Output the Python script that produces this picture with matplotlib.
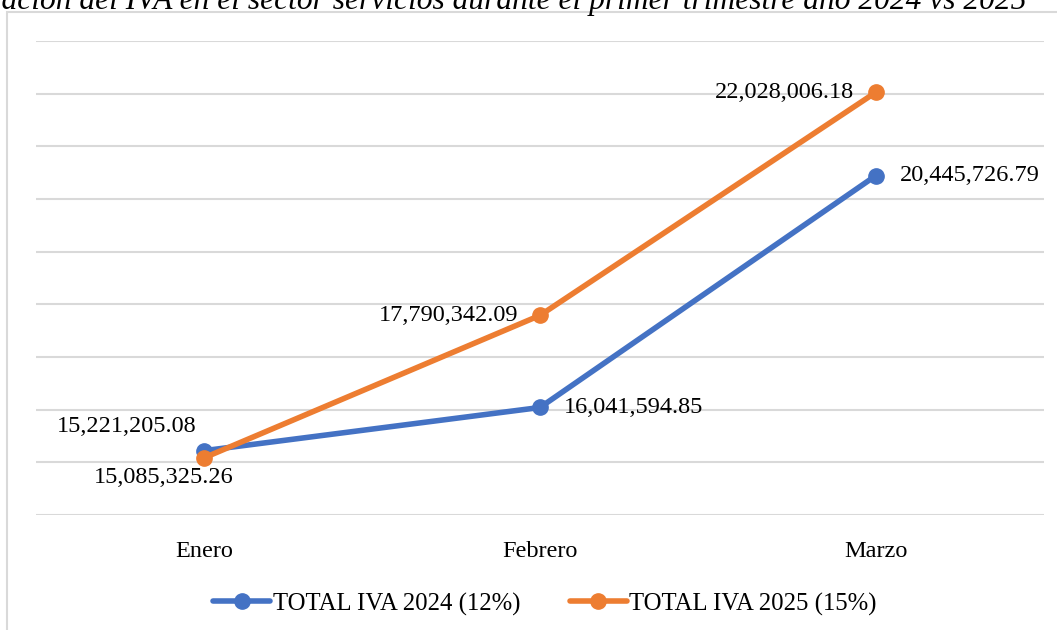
import matplotlib
matplotlib.use("Agg")
import matplotlib.pyplot as plt
from matplotlib.patches import Rectangle

plt.rcParams['font.family'] = ['Liberation Serif', 'DejaVu Serif']

months = ["Enero", "Febrero", "Marzo"]
iva_2024 = [15221205.08, 16041594.85, 20445726.79]
iva_2025 = [15085325.26, 17790342.09, 22028006.18]
series_names = ["TOTAL IVA 2024 (12%)", "TOTAL IVA 2025 (15%)"]
title = "Recaudación del IVA en el sector servicios durante el primer trimestre año 2024 vs 2025"

W, H = 1057, 630
fig = plt.figure(figsize=(W / 100, H / 100), dpi=100)
fig.patch.set_facecolor("white")

# outer chart border (cropped)
fig.patches.append(Rectangle((7 / W, -0.1), 1.2, 1 - 12 / H + 0.1, transform=fig.transFigure,
                             fill=False, edgecolor="#D9D9D9", linewidth=1.5, zorder=0))

ax = fig.add_axes([36 / W, 1 - 515 / H, (1044 - 36) / W, (515 - 41) / H])
x = list(range(len(months)))
blue = "#4472C4"
orange = "#ED7D31"
ax.plot(x, iva_2024, color=blue, lw=4, marker="o", ms=11, solid_capstyle="round", label=series_names[0], zorder=3)
ax.plot(x, iva_2025, color=orange, lw=4, marker="o", ms=11, solid_capstyle="round", label=series_names[1], zorder=4)

ax.set_xlim(-0.5, 2.5)
ax.set_ylim(14e6, 23e6)
ax.set_yticks([14e6 + i * 1e6 for i in range(10)])
ax.yaxis.grid(True, color="#D9D9D9", lw=1.5)
ax.set_axisbelow(True)
for s in ax.spines.values():
    s.set_visible(False)
ax.tick_params(axis="y", left=False, labelleft=False)
ax.set_xticks(x)
ax.set_xticklabels(months, fontsize=17.5)
ax.tick_params(axis="x", bottom=False, pad=15)

fs = 17.5
def fmt(v):
    return f"{v:,.2f}"

offs_2024 = [(-8, 24, "right", "center"), (24, 0, "left", "center"), (24, 0, "left", "center")]
for xi, v, (dx, dy, ha, va) in zip(x, iva_2024, offs_2024):
    ax.annotate(fmt(v), (xi, v), xytext=(dx, dy), textcoords="offset pixels", ha=ha, va=va, fontsize=fs)
offs_2025 = [(-40, -20, "center", "center"), (-22, 0, "right", "center"), (-22, 0, "right", "center")]
for xi, v, (dx, dy, ha, va) in zip(x, iva_2025, offs_2025):
    ax.annotate(fmt(v), (xi, v), xytext=(dx, dy), textcoords="offset pixels", ha=ha, va=va, fontsize=fs)

fig.legend(loc="center", bbox_to_anchor=(545 / W, 1 - 604 / H), ncol=2, frameon=False,
           fontsize=17.8, handlelength=2.3, handletextpad=0.1, columnspacing=2.0)

fig.text(1027 / W, 1 - 9 / H, title, ha="right", va="baseline", fontsize=22.7, style="italic")

fig.savefig("out.png", dpi=100)
